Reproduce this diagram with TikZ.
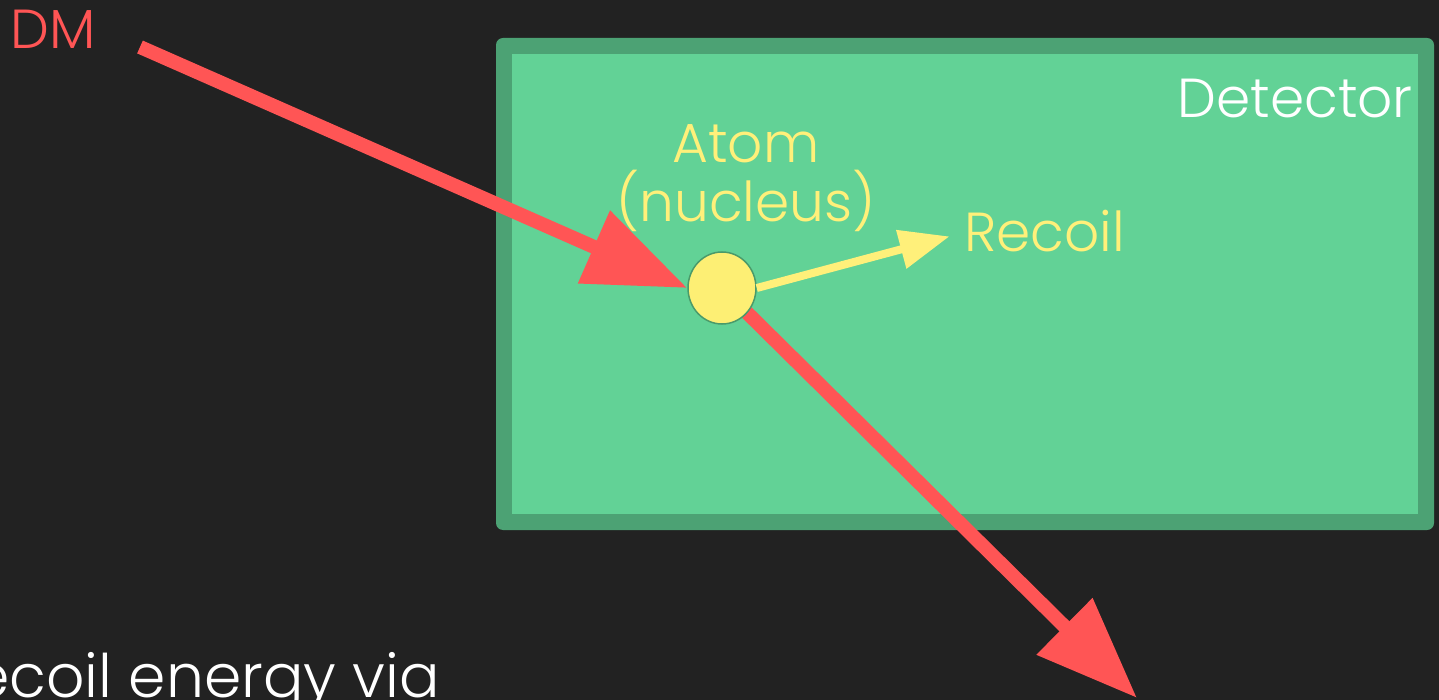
\documentclass[tikz,border=0pt]{standalone}
\usepackage{fontspec}
\setmainfont{Poppins Light}
\usetikzlibrary{arrows.meta,shapes.geometric}
\definecolor{bgdark}{HTML}{222222}
\definecolor{detrim}{HTML}{4CA274}
\definecolor{detfill}{HTML}{62D296}
\definecolor{dmred}{HTML}{FF5555}
\definecolor{atomyellow}{HTML}{FDEF74}
\definecolor{labyellow}{HTML}{FFF07A}
\definecolor{atomedge}{HTML}{4A9A6A}
\pgfdeclarelayer{under}
\pgfsetlayers{under,main}
\tikzset{
  lab/.style={inner sep=0pt, font=\fontsize{55}{62}\selectfont},
  dmarrow/.style={draw=dmred, line width=14pt,
    -{Triangle[length=102pt,width=76pt]}},
  recoilarrow/.style={draw=labyellow, line width=8pt,
    -{Triangle[length=50pt,width=38pt]}},
}
\begin{document}
\begin{tikzpicture}[x=1pt,y=-1pt]
  \useasboundingbox (0,0) rectangle (1439,700);
  \clip (0,0) rectangle (1439,700);

  % labels
  \node[lab, text=dmred, anchor=base west] (dm) at (10,49) {DM};
  \node[lab, text=white, anchor=base east] (detlab) at (1413,118) {Detector};
  \node[lab, text=labyellow, anchor=base] (atomlab) at (746,163) {Atom};
  \node[lab, text=labyellow, anchor=base] (nuclab) at (746,222) {(nucleus)};
  \node[lab, text=labyellow, anchor=base west] (recoil) at (964,252) {Recoil};
  \node[lab, text=white, anchor=base east, font=\fontsize{60}{66}\selectfont]
    (bottom) at (440,697) {Recoil energy via};

  % the nucleus
  \node[ellipse, draw=atomedge, line width=1.5pt, fill=atomyellow,
        minimum width=68pt, minimum height=72pt, inner sep=0pt] (atom) at (722,288) {};

  \coordinate (dmtail) at (140,47);
  \coordinate (dmexit) at (1137,698);

  \begin{pgfonlayer}{under}
    \fill[bgdark] (0,0) rectangle (1439,700);
    % detector box: darker rim around the lighter body
    \fill[detrim, rounded corners=7pt] (496,38) rectangle (1434,530);
    \fill[detfill] (512,54) rectangle (1418,514);
    \draw[dmarrow] (atom.center) -- (dmexit);
  \end{pgfonlayer}
  \draw[dmarrow] (dmtail) -- (atom.west);
  \draw[recoilarrow, shorten >=15pt] (atom.east) -- ([yshift=-1pt]recoil.west);
\end{tikzpicture}
\end{document}
